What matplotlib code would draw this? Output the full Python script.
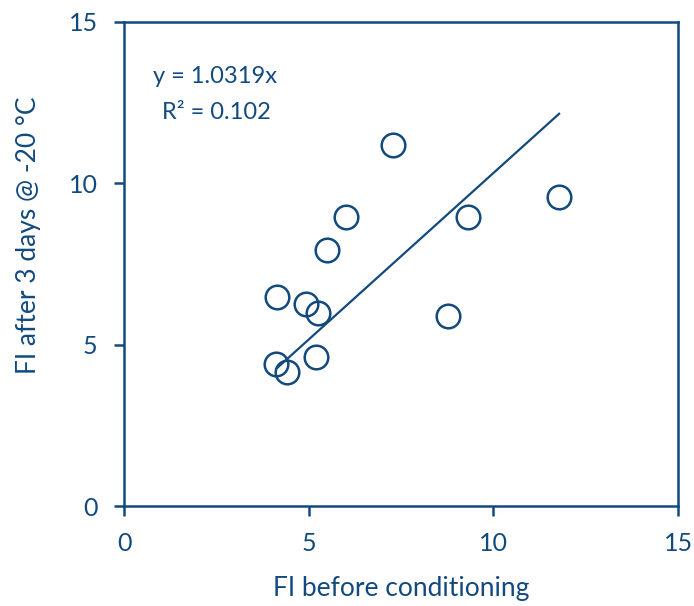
import matplotlib
matplotlib.use("Agg")
import matplotlib.pyplot as plt
import numpy as np

plt.rcParams['font.family'] = ['Lato', 'DejaVu Sans']

x_before = [4.12, 4.41, 4.14, 4.93, 5.25, 5.20, 5.50, 6.01, 7.28, 8.77, 9.31, 11.78]
y_after = [4.40, 4.15, 6.48, 6.26, 5.98, 4.62, 7.93, 8.96, 11.19, 5.89, 8.96, 9.58]
slope = 1.0319
ticks = [0, 5, 10, 15]

C = '#134a7e'
fig = plt.figure(figsize=(6.94, 6.06), dpi=100)
ax = fig.add_axes([0.1787, 0.165, 0.977 - 0.1787, 0.9637 - 0.165])

xs = np.array([min(x_before), max(x_before)])
ax.plot(xs, slope * xs, color=C, lw=1.6, zorder=2)
ax.plot(x_before, y_after, 'o', ms=17, mfc='none', mec=C, mew=1.8, zorder=3)

ax.set_xlim(0, 15)
ax.set_ylim(0, 15)
ax.set_xticks(ticks)
ax.set_yticks(ticks)
for s in ax.spines.values():
    s.set_color(C)
    s.set_linewidth(1.8)
ax.tick_params(direction='out', length=7, width=1.8, color=C, labelcolor=C, labelsize=18)
ax.tick_params(axis='x', pad=12)
ax.tick_params(axis='y', pad=12)
ax.set_xlabel('FI before conditioning', color=C, fontsize=19, labelpad=15)
ax.set_ylabel('FI after 3 days @ -20 °C', color=C, fontsize=19, va='center')
ax.yaxis.set_label_coords(-0.173, 0.56)

ax.text(2.46, 13.3, 'y = 1.0319x', color=C, fontsize=17, ha='center', va='center')
ax.text(2.5, 12.2, 'R² = 0.102', color=C, fontsize=17, ha='center', va='center')

fig.savefig('out.png', dpi=100)
